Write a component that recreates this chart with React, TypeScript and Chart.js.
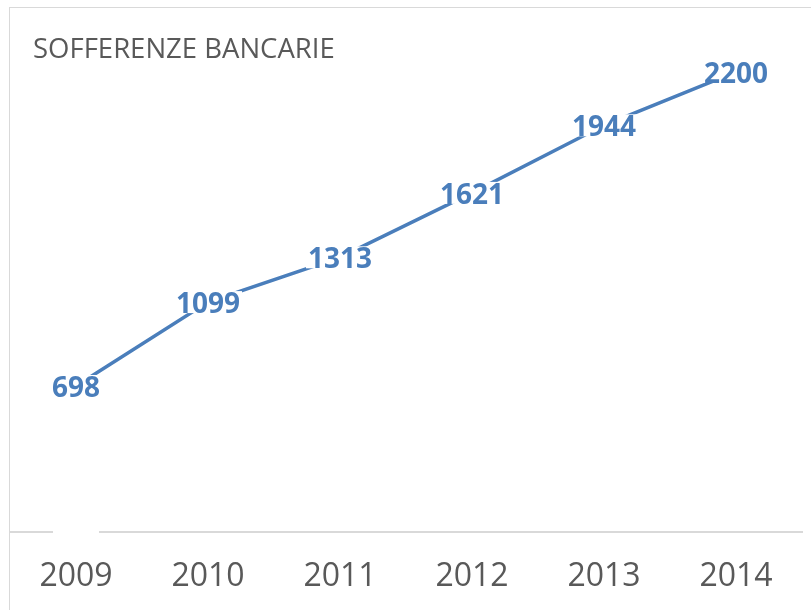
import React, { useEffect, useRef } from "react";
import { Chart, registerables } from "chart.js";

Chart.register(...registerables);

const categories = ["2009", "2010", "2011", "2012", "2013", "2014"];
const values = [698, 1099, 1313, 1621, 1944, 2200];
const titleText = "SOFFERENZE BANCARIE";
const yMin = 0;
const yMax = 2500;

const lineColor = "#4a7ebb";
const textGray = "#595959";
const axisGray = "#d9d9d9";

export default function App() {
  const ref = useRef<HTMLCanvasElement>(null);

  useEffect(() => {
    document.documentElement.style.overflow = "hidden";
    document.body.style.overflow = "hidden";
    const overlay = {
      id: "overlay",
      afterDraw(chart: any) {
        const ctx = chart.ctx;
        const xs = chart.scales.x;
        ctx.save();
        // small gap in the axis line under the first category
        const x0 = xs.getPixelForTick(0);
        ctx.fillStyle = "#ffffff";
        ctx.fillRect(x0 - 23, chart.chartArea.bottom - 2, 46, 4);
        // title
        ctx.font = "27.5px 'Open Sans'";
        ctx.fillStyle = textGray;
        ctx.textAlign = "left";
        ctx.textBaseline = "alphabetic";
        ctx.fillText(titleText, 23, 50);
        // data labels
        const meta = chart.getDatasetMeta(0);
        ctx.font = "bold 28px 'Open Sans'";
        ctx.textAlign = "center";
        meta.data.forEach((pt: any, i: number) => {
          const txt = String(values[i]);
          const w = ctx.measureText(txt).width;
          ctx.fillStyle = "#ffffff";
          ctx.fillRect(pt.x - w / 2 - 2, pt.y - 11, w + 4, 22);
          ctx.fillStyle = lineColor;
          ctx.fillText(txt, pt.x, pt.y + 11);
        });
        ctx.restore();
      },
    };

    const chart = new Chart(ref.current!, {
      type: "line",
      data: {
        labels: categories,
        datasets: [
          {
            data: values,
            borderColor: lineColor,
            borderWidth: 3.5,
            pointRadius: 0,
            tension: 0,
            fill: false,
          },
        ],
      },
      options: {
        responsive: false,
        animation: false,
        layout: { padding: { top: 1, right: 9, left: 0, bottom: 0 } },
        plugins: {
          legend: { display: false },
          title: { display: false },
          tooltip: { enabled: false },
        },
        scales: {
          x: {
            offset: true,
            grid: { display: false, drawTicks: false },
            border: { display: true, color: axisGray, width: 2 },
            ticks: {
              color: textGray,
              font: { family: "'Open Sans'", size: 32 },
              padding: 26,
              maxRotation: 0,
            },
            afterFit(scale: any) {
              scale.height = 78;
            },
          },
          y: {
            display: false,
            min: yMin,
            max: yMax,
          },
        },
      },
      plugins: [overlay],
    });
    return () => chart.destroy();
  }, []);

  return (
    <div
      style={{
        position: "absolute",
        left: 9,
        top: 7,
        width: 801,
        height: 602,
        border: `1px solid ${axisGray}`,
        background: "#ffffff",
      }}
    >
      <canvas ref={ref} width={801} height={602} style={{ display: "block", width: 801, height: 602 }} />
    </div>
  );
}
